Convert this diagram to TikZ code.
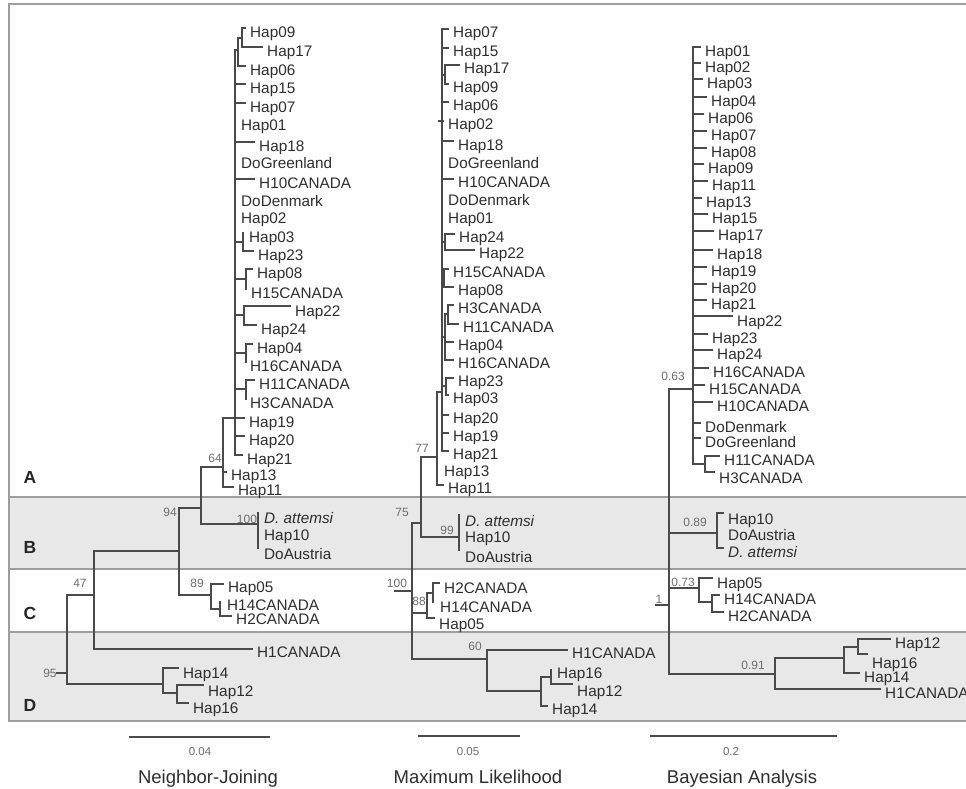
\documentclass[tikz,border=0pt]{standalone}
\usepackage{fontspec}
\setmainfont{Liberation Sans}
\definecolor{treecol}{HTML}{4A4A4A}
\definecolor{labcol}{HTML}{2E2E2E}
\definecolor{numcol}{HTML}{6E6E6E}
\definecolor{bandcol}{HTML}{E8E8E8}
\definecolor{framecol}{HTML}{9E9E9E}
\tikzset{
  branch/.style={draw=treecol, line width=1.2pt, line cap=rect},
  lab/.style={anchor=base west, inner sep=0pt, text=labcol, font=\fontsize{15.3pt}{18pt}\selectfont},
  supp/.style={anchor=base, inner sep=0pt, text=numcol, font=\fontsize{12pt}{14pt}\selectfont},
  panel/.style={anchor=base, inner sep=0pt, text=black!85, font=\fontsize{17.5pt}{20pt}\selectfont\bfseries},
  ttl/.style={anchor=base, inner sep=0pt, text=labcol, font=\fontsize{18.5pt}{22pt}\selectfont},
  sclab/.style={anchor=base, inner sep=0pt, text=numcol, font=\fontsize{11.5pt}{13pt}\selectfont},
  frameline/.style={draw=framecol, line width=1.8pt},
}
\newcommand\lf[6]{\draw[branch] (#2,#4) -- ({#3-5},#4); \node[lab] (#1) at (#3,{#5+5}) {#6};}
\newcommand\lb[4]{\node[lab] (#1) at (#2,{#3+5}) {#4};}
\newcommand\nm[4]{\node[supp] (#1) at (#2,{#3+4}) {#4};}
\begin{document}
\begin{tikzpicture}[x=1pt,y=-1pt]
\useasboundingbox (0,0) rectangle (966,788);
\clip (0,0) rectangle (966,788);
\fill[white] (0,0) rectangle (966,788);
% bands and frame
\fill[bandcol] (9,497) rectangle (970,569);
\fill[bandcol] (9,632) rectangle (970,721);
\draw[frameline] (970,4) -- (9,4) -- (9,721) -- (970,721);
\draw[frameline] (9,497) -- (970,497);
\draw[frameline] (9,569) -- (970,569);
\draw[frameline] (9,632) -- (970,632);
\node[panel] (pA) at (30,483) {A};
\node[panel] (pB) at (30,553) {B};
\node[panel] (pC) at (30,619) {C};
\node[panel] (pD) at (30,711) {D};

% ================= Neighbor-Joining =================
\draw[branch] (235,50) -- (235,455);
\draw[branch] (235,50) -- (238,50) (238,38) -- (238,66) (238,38) -- (242,38) (242,28) -- (242,47);
\lf{nj09}{242}{250}{28}{32}{Hap09}
\lf{nj17}{242}{267}{47}{51}{Hap17}
\lf{nj06}{238}{250}{66}{70}{Hap06}
\lf{nj15}{235}{250}{84}{88}{Hap15}
\lf{nj07}{235}{250}{103}{107}{Hap07}
\lb{nj01}{241}{125}{Hap01}
\lf{nj18}{235}{259}{142}{146}{Hap18}
\lb{njgr}{241}{163}{DoGreenland}
\lf{nj10c}{235}{259}{179}{183}{H10CANADA}
\lb{njdk}{241}{201}{DoDenmark}
\lb{nj02}{241}{218}{Hap02}
\draw[branch] (235,242) -- (243,242) (243,233) -- (243,251);
\lb{nj03}{249}{237}{Hap03}
\lf{nj23}{243}{258}{251}{255}{Hap23}
\draw[branch] (235,279) -- (246,279) (246,269) -- (246,289);
\lf{nj08}{246}{257}{269}{273}{Hap08}
\lb{nj15c}{251}{293}{H15CANADA}
\draw[branch] (235,315) -- (244,315) (244,306) -- (244,325);
\lf{nj22}{244}{295}{306}{311}{Hap22}
\lf{nj24}{244}{261}{325}{329}{Hap24}
\draw[branch] (235,353) -- (246,353) (246,344) -- (246,362);
\lf{nj04}{246}{257}{344}{348}{Hap04}
\lb{nj16c}{250}{366}{H16CANADA}
\draw[branch] (235,389) -- (246,389) (246,380) -- (246,399);
\lf{nj11c}{246}{259}{380}{384}{H11CANADA}
\lb{nj3c}{250}{403}{H3CANADA}
\lf{nj19}{235}{249}{418}{422}{Hap19}
\lf{nj20}{235}{249}{436}{440}{Hap20}
\lf{nj21}{235}{247}{455}{459}{Hap21}
\draw[branch] (223,418) -- (235,418) (223,418) -- (223,487);
\lf{nj13}{223}{231}{472}{475}{Hap13}
\lf{nj11}{223}{238}{487}{490}{Hap11}
\nm{nj64}{215}{458}{64}
\draw[branch] (201,467) -- (223,467) (201,467) -- (201,524) (201,524) -- (258,524) (258,513) -- (258,548);
\lb{njda}{264}{518}{\textit{D. attemsi}}
\lb{njh10}{264}{535}{Hap10}
\lb{njau}{264}{554}{DoAustria}
\nm{nj100}{247}{519}{100}
\draw[branch] (179,508) -- (201,508) (179,508) -- (179,595);
\nm{nj94}{170}{512}{94}
\draw[branch] (179,595) -- (211,595) (211,584) -- (211,609);
\lf{nj05}{211}{228}{584}{587}{Hap05}
\draw[branch] (211,609) -- (220,609) (220,602) -- (220,616);
\lb{nj14c}{227}{605}{H14CANADA}
\lf{nj2c}{220}{236}{616}{619}{H2CANADA}
\nm{nj89}{197}{583}{89}
\draw[branch] (94,551) -- (179,551) (94,551) -- (94,649);
\lf{nj1c}{94}{257}{649}{652}{H1CANADA}
\nm{nj47}{80}{583}{47}
\draw[branch] (67,595) -- (94,595) (67,595) -- (67,684) (57,673) -- (67,673);
\nm{nj95}{50}{673}{95}
\draw[branch] (67,684) -- (163,684) (163,668) -- (163,693);
\lf{nj14}{163}{183}{668}{673}{Hap14}
\draw[branch] (163,693) -- (177,693) (177,685) -- (177,703);
\lf{nj12}{177}{208}{685}{691}{Hap12}
\lf{nj16}{177}{193}{703}{708}{Hap16}

% ================= Maximum Likelihood =================
\draw[branch] (442,29) -- (442,451);
\lf{ml07}{442}{453}{29}{32}{Hap07}
\lf{ml15}{442}{453}{48}{51}{Hap15}
\draw[branch] (442,75) -- (445,75) (445,65) -- (445,84);
\lf{ml17}{445}{464}{65}{68}{Hap17}
\lf{ml09}{445}{453}{84}{87}{Hap09}
\lf{ml06}{442}{453}{102}{105}{Hap06}
\lf{ml02}{439}{448}{121}{124}{Hap02}
\lf{ml18}{442}{458}{141}{145}{Hap18}
\lb{mlgr}{448}{163}{DoGreenland}
\lf{ml10c}{442}{458}{179}{182}{H10CANADA}
\lb{mldk}{448}{200}{DoDenmark}
\lb{ml01}{448}{218}{Hap01}
\draw[branch] (442,242) -- (445,242) (445,234) -- (445,250);
\lf{ml24}{445}{459}{234}{237}{Hap24}
\lf{ml22}{445}{479}{250}{253}{Hap22}
\draw[branch] (442,278) -- (444,278) (444,269) -- (444,287);
\lf{ml15c}{444}{453}{269}{272}{H15CANADA}
\lf{ml08}{444}{458}{287}{290}{Hap08}
\draw[branch] (442,337) -- (445,337) (445,314) -- (445,360) (445,314) -- (448,314) (448,305) -- (448,324);
\lf{ml3c}{448}{458}{305}{308}{H3CANADA}
\lf{ml11c}{448}{463}{324}{327}{H11CANADA}
\lf{ml04}{445}{458}{342}{345}{Hap04}
\lf{ml16c}{445}{458}{360}{363}{H16CANADA}
\draw[branch] (442,386) -- (446,386) (446,378) -- (446,395);
\lf{ml23}{446}{458}{378}{381}{Hap23}
\lf{ml03}{446}{453}{395}{398}{Hap03}
\lf{ml20}{442}{453}{415}{418}{Hap20}
\lf{ml19}{442}{453}{433}{436}{Hap19}
\lf{ml21}{442}{453}{451}{454}{Hap21}
\draw[branch] (437,392) -- (442,392) (437,392) -- (437,485);
\lb{ml13}{444}{471}{Hap13}
\lf{ml11}{437}{448}{485}{488}{Hap11}
\draw[branch] (421,457) -- (437,457) (421,457) -- (421,537) (421,537) -- (459,537) (459,515) -- (459,550);
\nm{ml77}{422}{448}{77}
\lb{mlda}{465}{521}{\textit{D. attemsi}}
\lb{mlh10}{465}{537}{Hap10}
\lb{mlau}{465}{557}{DoAustria}
\nm{ml99}{447}{530}{99}
\draw[branch] (412,523) -- (421,523) (412,523) -- (412,659) (395,591) -- (412,591);
\nm{ml75}{402}{512}{75}
\nm{ml100}{397}{583}{100}
\draw[branch] (412,613) -- (427,613) (427,593) -- (427,618) (427,593) -- (433,593) (433,583) -- (433,602);
\nm{ml88}{419}{601}{88}
\lf{ml2c}{433}{444}{583}{588}{H2CANADA}
\lb{ml14c}{440}{607}{H14CANADA}
\lf{ml05}{427}{439}{618}{624}{Hap05}
\draw[branch] (412,659) -- (487,659) (487,650) -- (487,691);
\nm{ml60}{475}{646}{60}
\lf{ml1c}{487}{572}{650}{653}{H1CANADA}
\draw[branch] (487,691) -- (541,691) (541,677) -- (541,706) (541,677) -- (551,677) (551,670) -- (551,684);
\lb{ml16}{557}{673}{Hap16}
\lf{ml12}{551}{577}{684}{691}{Hap12}
\lf{ml14}{541}{552}{706}{709}{Hap14}

% ================= Bayesian =================
\draw[branch] (693,47) -- (693,464);
\lf{ba01}{693}{705}{47}{51}{Hap01}
\lf{ba02}{693}{705}{63}{67}{Hap02}
\lf{ba03}{693}{707}{79}{83}{Hap03}
\lf{ba04}{693}{711}{97}{101}{Hap04}
\lf{ba06}{693}{708}{114}{118}{Hap06}
\lf{ba07}{693}{711}{131}{135}{Hap07}
\lf{ba08}{693}{711}{148}{152}{Hap08}
\lf{ba09}{693}{708}{164}{168}{Hap09}
\lf{ba11}{693}{712}{181}{185}{Hap11}
\lf{ba13}{693}{706}{198}{202}{Hap13}
\lf{ba15}{693}{712}{214}{218}{Hap15}
\lf{ba17}{693}{718}{231}{235}{Hap17}
\lf{ba18}{693}{717}{250}{254}{Hap18}
\lf{ba19}{693}{711}{267}{271}{Hap19}
\lf{ba20}{693}{711}{284}{288}{Hap20}
\lf{ba21}{693}{711}{300}{304}{Hap21}
\lf{ba22}{693}{737}{316}{321}{Hap22}
\lf{ba23}{693}{712}{334}{338}{Hap23}
\lf{ba24}{693}{717}{350}{354}{Hap24}
\lf{ba16c}{693}{713}{368}{372}{H16CANADA}
\lf{ba15c}{693}{709}{385}{389}{H15CANADA}
\lf{ba10c}{693}{717}{402}{406}{H10CANADA}
\lf{badk}{693}{705}{423}{427}{DoDenmark}
\lf{bagr}{693}{705}{438}{442}{DoGreenland}
\draw[branch] (693,464) -- (705,464) (705,456) -- (705,472);
\lf{ba11c}{705}{724}{456}{460}{H11CANADA}
\lf{ba3c}{705}{719}{472}{478}{H3CANADA}
\draw[branch] (669,389) -- (693,389) (669,389) -- (669,674);
\nm{ba63}{673}{376}{0.63}
\draw[branch] (669,533) -- (717,533) (717,513) -- (717,548);
\nm{ba89}{695}{522}{0.89}
\lf{bah10}{717}{728}{513}{519}{Hap10}
\lb{baau}{728}{535}{DoAustria}
\lf{bada}{717}{728}{548}{552}{\textit{D. attemsi}}
\draw[branch] (669,588) -- (699,588) (699,578) -- (699,602) (699,602) -- (712,602) (712,595) -- (712,612);
\nm{ba73}{683}{582}{0.73}
\lf{ba05}{699}{717}{578}{583}{Hap05}
\lf{ba14c}{712}{724}{595}{599}{H14CANADA}
\lf{ba2c}{712}{728}{612}{616}{H2CANADA}
\draw[branch] (656,605) -- (669,605);
\nm{ba1}{659}{599}{1}
\draw[branch] (669,674) -- (775,674) (775,658) -- (775,689);
\nm{ba91}{753}{665}{0.91}
\draw[branch] (775,658) -- (844,658) (844,647) -- (844,673) (844,647) -- (858,647) (858,639) -- (858,654);
\lf{ba12}{858}{895}{639}{643}{Hap12}
\lf{ba16}{858}{872}{654}{663}{Hap16}
\lf{ba14}{844}{864}{673}{677}{Hap14}
\lf{ba1c}{775}{885}{689}{693}{H1CANADA}

% ================= scale bars and titles =================
\draw[branch] (130,737) -- (269,737);
\node[sclab] (s1) at (200,755) {0.04};
\draw[branch] (419,736) -- (519,736);
\node[sclab] (s2) at (468,755) {0.05};
\draw[branch] (651,736) -- (836,736);
\node[sclab] (s3) at (731,755) {0.2};
\node[ttl] (t1) at (208,783) {Neighbor-Joining};
\node[ttl] (t2) at (478,783) {Maximum Likelihood};
\node[ttl] (t3) at (742,783) {Bayesian Analysis};
\end{tikzpicture}
\end{document}
